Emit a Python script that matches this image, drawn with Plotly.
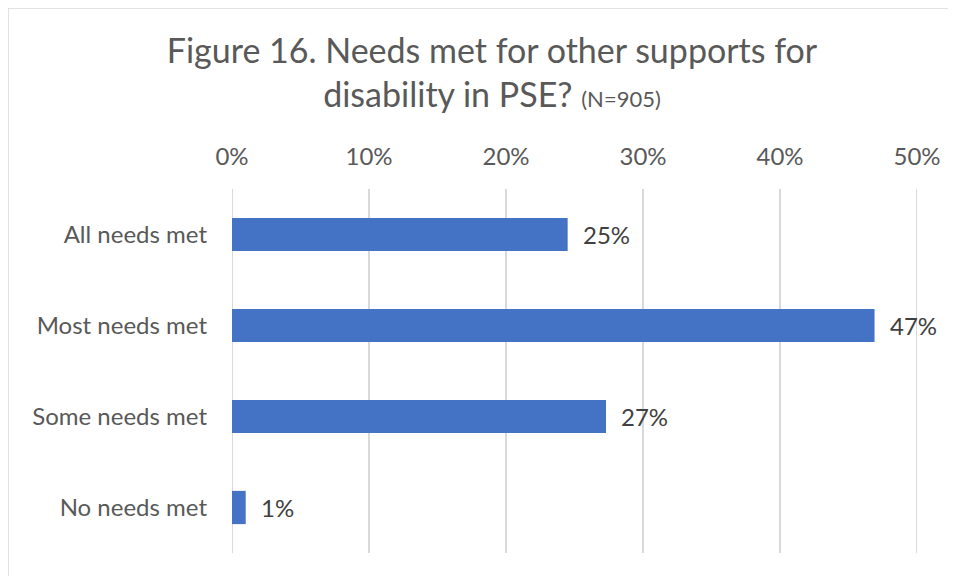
import plotly.graph_objects as go

categories = ["All needs met", "Most needs met", "Some needs met", "No needs met"]
values = [24.5, 46.9, 27.3, 1.0]
labels = ["25%", "47%", "27%", "1%"]
tick_vals = [0, 10, 20, 30, 40, 50]
tick_text = ["0%", "10%", "20%", "30%", "40%", "50%"]

FONT = "Lato"
GRID = "#D9D9D9"
# page body has an 8px margin, so the figure starts at (8, 8) in the window
W, H = 948, 568
L, R, T, B = 224, 39, 181, 23

fig = go.Figure()
fig.add_trace(go.Bar(
    x=values, y=categories, orientation="h",
    marker=dict(color="#4472C4", line=dict(width=0)),
    width=0.365,
    hoverinfo="x+y",
))

for v, c, t in zip(values, categories, labels):
    fig.add_annotation(
        x=v, y=c, text=t, xref="x", yref="y", showarrow=False,
        xanchor="left", yanchor="middle", xshift=13,
        font=dict(family=FONT, size=24, color="#404040"),
    )

# grid lines at the axis ends (plotly omits them at the range edges)
edge_lines = [dict(type="line", xref="x", yref="paper", x0=v, x1=v, y0=0, y1=1,
                   line=dict(color=GRID, width=2), layer="below")
              for v in (tick_vals[0], tick_vals[-1])]

fig.update_layout(
    width=W, height=H,
    margin=dict(l=L, r=R, t=T, b=B, autoexpand=False),
    paper_bgcolor="white", plot_bgcolor="white",
    showlegend=False,
    title=dict(
        text="Figure 16. Needs met for other supports for<br>disability in PSE? <span style='font-size:22px'>(N=905)</span>",
        x=484 / W, xanchor="center", y=1 - 55 / H, yanchor="top",
        font=dict(family=FONT, size=34, color="#595959"),
    ),
    xaxis=dict(
        side="top", range=[0, 50], tickvals=tick_vals, ticktext=tick_text,
        showgrid=True, gridcolor=GRID, gridwidth=2,
        zeroline=False, showline=False, ticks="",
        tickfont=dict(family=FONT, size=24, color="#595959"),
        ticklabelstandoff=18, fixedrange=True,
    ),
    yaxis=dict(
        categoryorder="array", categoryarray=categories, autorange="reversed",
        showgrid=False, zeroline=False, showline=False, ticks="",
        tickfont=dict(family=FONT, size=24, color="#595959"),
        ticklabelstandoff=24, fixedrange=True,
    ),
    shapes=[dict(type="rect", xref="paper", yref="paper",
                 x0=-L / (W - L - R), x1=1.5, y0=-1, y1=1 + T / (H - T - B),
                 line=dict(color=GRID, width=1.5), fillcolor="rgba(0,0,0,0)",
                 layer="below")] + edge_lines,
)

fig.write_html("out.html")
